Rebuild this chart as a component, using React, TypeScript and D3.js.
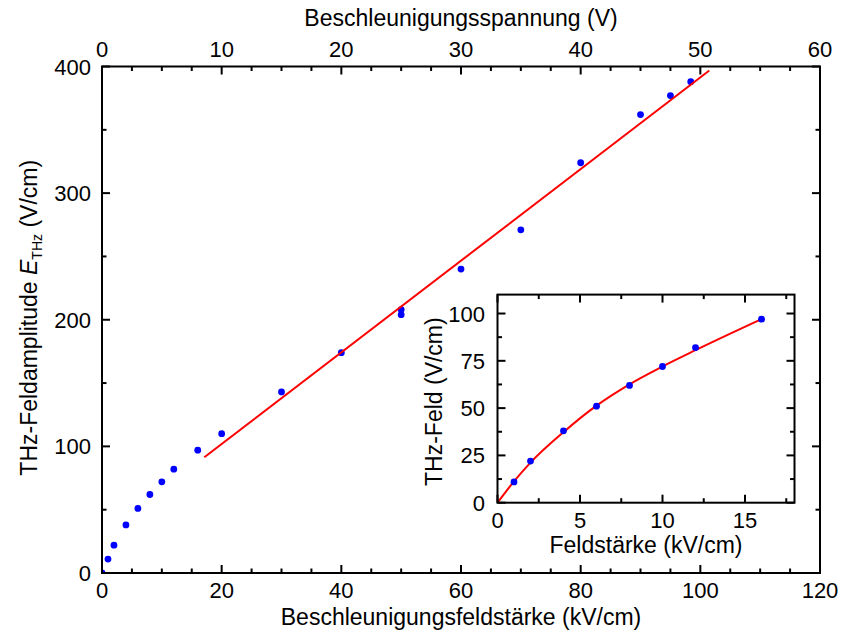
import React from "react";
import * as d3 from "d3";

// Main data: acceleration field (kV/cm) vs THz amplitude (V/cm)
const mainX = [0, 1, 2, 4, 6, 8, 10, 12, 16, 20, 30, 40, 50, 50, 60, 70, 80, 90, 95, 98.4];
const mainY = [0, 11, 22, 38, 51, 62, 72, 82, 97, 110, 143, 174, 208, 204, 240, 271, 324, 362, 377, 388];
// linear fit line endpoints
const fitX = [17.1, 101.5];
const fitY = [91.4, 396.8];

// Inset data
const insetX = [1, 2, 4, 6, 8, 10, 12, 16];
const insetY = [11, 22, 38, 51, 62, 72, 82, 97];
// fit curve
const insetFitX = [0, 1, 2, 4, 6, 8, 10, 12, 16];
const insetFitY = [0, 11.3, 21.2, 37.3, 51.3, 62.6, 72, 80.6, 97];

const bottomMajor = [0, 20, 40, 60, 80, 100, 120];
const topMajor = [0, 10, 20, 30, 40, 50, 60];
const leftMajor = [0, 100, 200, 300, 400];
const insetXMajor = [0, 5, 10, 15];
const insetYMajor = [0, 25, 50, 75, 100];

const FONT = "'Liberation Sans', Arial, Helvetica, sans-serif";
const FS = 22;
const TFS = 23;

function range(a: number, b: number, s: number) {
  return d3.range(a, b + s / 2, s);
}

export default function App() {
  const mx = d3.scaleLinear().domain([0, 120]).range([102, 820]);
  const mt = d3.scaleLinear().domain([0, 60]).range([102, 820]);
  const my = d3.scaleLinear().domain([0, 400]).range([573, 66.5]);

  const ix = d3.scaleLinear().domain([0, 18]).range([497.5, 794.5]);
  const iy = d3.scaleLinear().domain([0, 110]).range([502.7, 294.6]);

  const MAJ = 8;
  const MIN = 4.5;

  const ticks: React.ReactNode[] = [];
  let k = 0;
  const [mx0, mx1] = mx.range();
  const [my0, my1] = my.range();
  range(0, 120, 5).forEach((v) => {
    const len = v % 20 === 0 ? MAJ : MIN;
    ticks.push(<line key={k++} x1={mx(v)} x2={mx(v)} y1={my0} y2={my0 - len} />);
  });
  range(0, 60, 2.5).forEach((v) => {
    const len = v % 10 === 0 ? MAJ : MIN;
    ticks.push(<line key={k++} x1={mt(v)} x2={mt(v)} y1={my1} y2={my1 + len} />);
  });
  range(0, 400, 50).forEach((v) => {
    const len = v % 100 === 0 ? MAJ : MIN;
    ticks.push(<line key={k++} x1={mx0} x2={mx0 + len} y1={my(v)} y2={my(v)} />);
    ticks.push(<line key={k++} x1={mx1} x2={mx1 - len} y1={my(v)} y2={my(v)} />);
  });

  const iticks: React.ReactNode[] = [];
  const [ix0, ix1] = ix.range();
  const [iy0, iy1] = iy.range();
  range(0, 17.5, 2.5).forEach((v) => {
    const len = v % 5 === 0 ? MAJ : MIN;
    iticks.push(<line key={k++} x1={ix(v)} x2={ix(v)} y1={iy0} y2={iy0 - len} />);
    iticks.push(<line key={k++} x1={ix(v)} x2={ix(v)} y1={iy1} y2={iy1 + len} />);
  });
  range(0, 100, 12.5).forEach((v) => {
    const len = v % 25 === 0 ? MAJ : MIN;
    iticks.push(<line key={k++} x1={ix0} x2={ix0 + len} y1={iy(v)} y2={iy(v)} />);
    iticks.push(<line key={k++} x1={ix1} x2={ix1 - len} y1={iy(v)} y2={iy(v)} />);
  });

  const fitLine = d3
    .line<number>()
    .x((_, i) => mx(fitX[i]))
    .y((d) => my(d))(fitY);

  const insetCurve = d3
    .line<number>()
    .x((_, i) => ix(insetFitX[i]))
    .y((d) => iy(d))
    .curve(d3.curveMonotoneX)(insetFitY);

  return (
    <svg
      width={842}
      height={632}
      style={{ position: "absolute", left: 0, top: 0, background: "#fff" }}
      fontFamily={FONT}
    >
      <defs>
        <clipPath id="mainClip">
          <rect x={mx0} y={my1} width={mx1 - mx0} height={my0 - my1} />
        </clipPath>
      </defs>
      <rect width={842} height={632} fill="#fff" />
      <g clipPath="url(#mainClip)">
        {mainX.map((x, i) => (
          <circle key={"m" + i} cx={mx(x)} cy={my(mainY[i])} r={3.4} fill="#0000ff" />
        ))}
      </g>
      <path d={fitLine || ""} stroke="#ff0000" strokeWidth={2} fill="none" />

      <rect x={mx0} y={my1} width={mx1 - mx0} height={my0 - my1} fill="none" stroke="#000" strokeWidth={2} />
      <g stroke="#000" strokeWidth={2}>{ticks}</g>

      <g fontSize={FS} fill="#000">
        {bottomMajor.map((v) => (
          <text key={"b" + v} x={mx(v)} y={598} textAnchor="middle">{v}</text>
        ))}
        {topMajor.map((v) => (
          <text key={"t" + v} x={mt(v)} y={57} textAnchor="middle">{v}</text>
        ))}
        {leftMajor.map((v) => (
          <text key={"l" + v} x={91} y={my(v) + 8} textAnchor="end">{v}</text>
        ))}
      </g>
      <text x={(mx0 + mx1) / 2} y={625} textAnchor="middle" fontSize={TFS}>
        Beschleunigungsfeldstärke (kV/cm)
      </text>
      <text x={(mx0 + mx1) / 2} y={26} textAnchor="middle" fontSize={TFS}>
        Beschleunigungsspannung (V)
      </text>
      <text transform={`translate(37,${(my0 + my1) / 2 - 2}) rotate(-90)`} textAnchor="middle" fontSize={TFS}>
        <tspan>THz-Feldamplitude </tspan>
        <tspan fontStyle="italic">E</tspan>
        <tspan fontSize={14} dy={5}>THz</tspan>
        <tspan dy={-5}> (V/cm)</tspan>
      </text>

      <rect x={ix0} y={iy1} width={ix1 - ix0} height={iy0 - iy1} fill="#fff" />
      <path d={insetCurve || ""} stroke="#ff0000" strokeWidth={2} fill="none" />
      {insetX.map((x, i) => (
        <circle key={"i" + i} cx={ix(x)} cy={iy(insetY[i])} r={3.4} fill="#0000ff" />
      ))}
      <rect x={ix0} y={iy1} width={ix1 - ix0} height={iy0 - iy1} fill="none" stroke="#000" strokeWidth={2} />
      <g stroke="#000" strokeWidth={2}>{iticks}</g>
      <g fontSize={FS} fill="#000">
        {insetXMajor.map((v) => (
          <text key={"ix" + v} x={ix(v)} y={528} textAnchor="middle">{v}</text>
        ))}
        {insetYMajor.map((v) => (
          <text key={"iy" + v} x={485} y={iy(v) + 8} textAnchor="end">{v}</text>
        ))}
      </g>
      <text x={(ix0 + ix1) / 2} y={553} textAnchor="middle" fontSize={TFS}>
        Feldstärke (kV/cm)
      </text>
      <text transform={`translate(442,${(iy0 + iy1) / 2 + 3}) rotate(-90)`} textAnchor="middle" fontSize={TFS}>
        THz-Feld (V/cm)
      </text>
    </svg>
  );
}
